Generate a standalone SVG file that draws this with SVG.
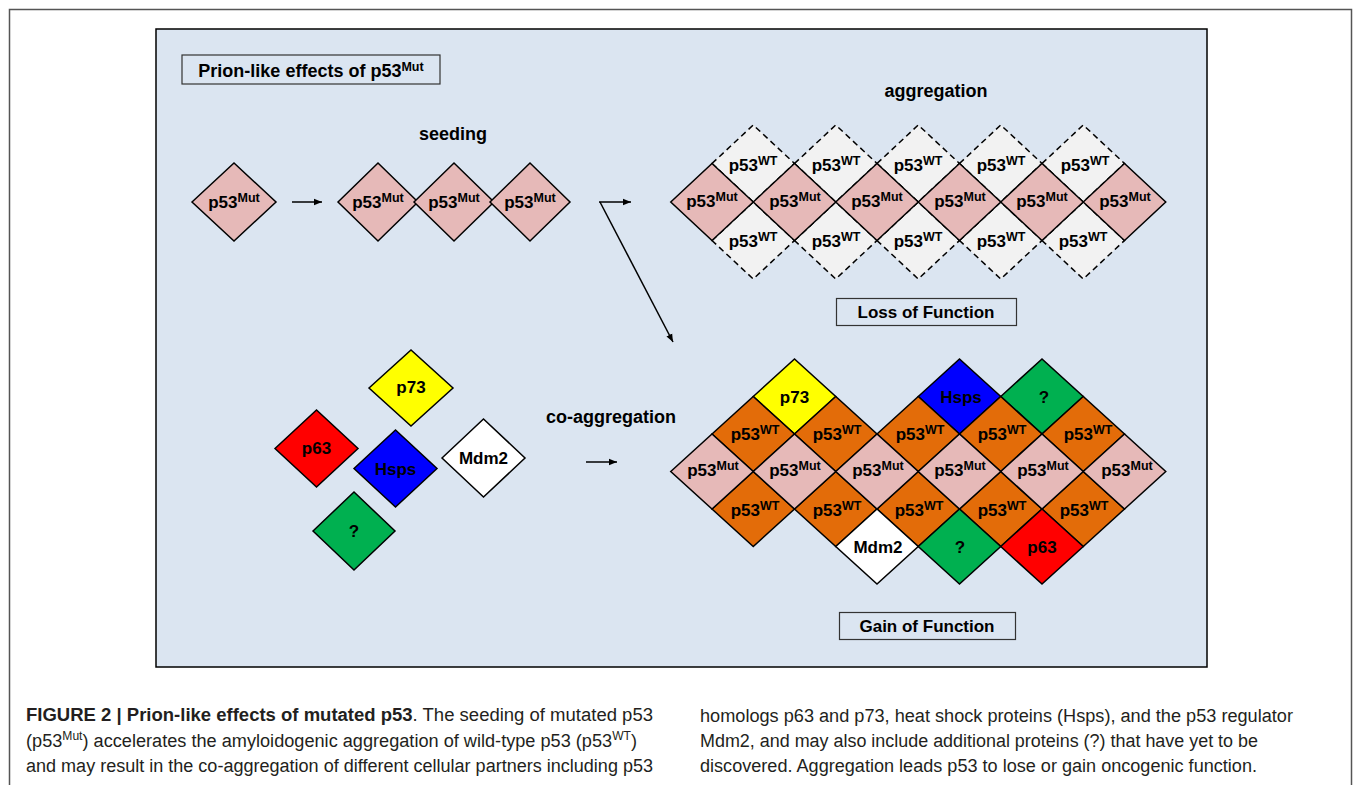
<svg xmlns="http://www.w3.org/2000/svg" width="1355" height="785" viewBox="0 0 1355 785">
<defs>
<marker id="ah" markerUnits="userSpaceOnUse" markerWidth="10" markerHeight="8" refX="8" refY="4" orient="auto">
<path d="M0,0.8 L8,4 L0,7.2 Z" fill="#000"/>
</marker>
<style>
.d{stroke:#000;stroke-width:1.5;stroke-linejoin:miter}
.dash{stroke:#000;stroke-width:1.5;stroke-dasharray:6 4;fill:#f2f2f2}
.mut{fill:#e6b9b8}
.wt{fill:#e36c09}
.t{font-family:"Liberation Sans",Arial,sans-serif;font-weight:bold;font-size:17px;fill:#000;text-anchor:middle}
.h{font-family:"Liberation Sans",Arial,sans-serif;font-weight:bold;font-size:18px;fill:#000}
.s{font-size:12.5px}
.cap{font-family:"Liberation Sans",Arial,sans-serif;font-size:18px;fill:#231f20}
.conn{stroke:#000;stroke-width:1.5;fill:none}
</style>
</defs>
<rect x="0" y="0" width="1355" height="785" fill="#fff"/>
<rect x="9.5" y="9.5" width="1342" height="800" fill="none" stroke="#555" stroke-width="1.5"/>
<rect id="panel" x="156" y="29" width="1051" height="638" fill="#dbe5f1" stroke="#000" stroke-width="1.5"/>

<g id="title">
<rect x="182" y="55" width="258" height="29" fill="#dbe5f1" stroke="#333" stroke-width="1.2"/>
<text class="h" x="311" y="77" text-anchor="middle">Prion-like effects of p53<tspan class="s" dy="-6">Mut</tspan></text>
</g>
<g id="labels">
<text class="h" x="453" y="140" text-anchor="middle">seeding</text>
<text class="h" x="936" y="97" text-anchor="middle">aggregation</text>
<text class="h" x="611" y="423" text-anchor="middle">co-aggregation</text>
</g>

<g id="seed-single">
<polygon class="d mut" points="192,202 234,163 276,202 234,241"/>
<text class="t" x="234" y="208">p53<tspan class="s" dy="-6">Mut</tspan></text>
</g>
<g id="seed-chain">
<polygon class="d mut" points="338,202 378,163 418,202 378,241"/>
<polygon class="d mut" points="414,202 454,163 494,202 454,241"/>
<polygon class="d mut" points="490,202 530,163 570,202 530,241"/>
<text class="t" x="378" y="208">p53<tspan class="s" dy="-6">Mut</tspan></text>
<text class="t" x="454" y="208">p53<tspan class="s" dy="-6">Mut</tspan></text>
<text class="t" x="530" y="208">p53<tspan class="s" dy="-6">Mut</tspan></text>
</g>

<g id="loss-aggregate">
<g id="loss-wt">
<polygon class="dash" points="712,163.5 753.25,125 794.5,163.5 753.25,202"/>
<polygon class="dash" points="794.5,163.5 835.75,125 877,163.5 835.75,202"/>
<polygon class="dash" points="877,163.5 918.25,125 959.5,163.5 918.25,202"/>
<polygon class="dash" points="959.5,163.5 1000.75,125 1042,163.5 1000.75,202"/>
<polygon class="dash" points="1042,163.5 1083.25,125 1124.5,163.5 1083.25,202"/>
<polygon class="dash" points="712,240.5 753.25,202 794.5,240.5 753.25,279"/>
<polygon class="dash" points="794.5,240.5 835.75,202 877,240.5 835.75,279"/>
<polygon class="dash" points="877,240.5 918.25,202 959.5,240.5 918.25,279"/>
<polygon class="dash" points="959.5,240.5 1000.75,202 1042,240.5 1000.75,279"/>
<polygon class="dash" points="1042,240.5 1083.25,202 1124.5,240.5 1083.25,279"/>
</g>
<g id="loss-mut">
<polygon class="d mut" points="670.75,202 712,163.5 753.25,202 712,240.5"/>
<polygon class="d mut" points="753.25,202 794.5,163.5 835.75,202 794.5,240.5"/>
<polygon class="d mut" points="835.75,202 877,163.5 918.25,202 877,240.5"/>
<polygon class="d mut" points="918.25,202 959.5,163.5 1000.75,202 959.5,240.5"/>
<polygon class="d mut" points="1000.75,202 1042,163.5 1083.25,202 1042,240.5"/>
<polygon class="d mut" points="1083.25,202 1124.5,163.5 1165.75,202 1124.5,240.5"/>
</g>
<g id="loss-text">
<text class="t" x="753" y="171">p53<tspan class="s" dy="-6">WT</tspan></text>
<text class="t" x="836" y="171">p53<tspan class="s" dy="-6">WT</tspan></text>
<text class="t" x="918" y="171">p53<tspan class="s" dy="-6">WT</tspan></text>
<text class="t" x="1001" y="171">p53<tspan class="s" dy="-6">WT</tspan></text>
<text class="t" x="1085" y="171">p53<tspan class="s" dy="-6">WT</tspan></text>
<text class="t" x="712" y="207">p53<tspan class="s" dy="-6">Mut</tspan></text>
<text class="t" x="795" y="207">p53<tspan class="s" dy="-6">Mut</tspan></text>
<text class="t" x="877" y="207">p53<tspan class="s" dy="-6">Mut</tspan></text>
<text class="t" x="960" y="207">p53<tspan class="s" dy="-6">Mut</tspan></text>
<text class="t" x="1042" y="207">p53<tspan class="s" dy="-6">Mut</tspan></text>
<text class="t" x="1125" y="207">p53<tspan class="s" dy="-6">Mut</tspan></text>
<text class="t" x="753" y="247">p53<tspan class="s" dy="-6">WT</tspan></text>
<text class="t" x="836" y="247">p53<tspan class="s" dy="-6">WT</tspan></text>
<text class="t" x="918" y="247">p53<tspan class="s" dy="-6">WT</tspan></text>
<text class="t" x="1001" y="247">p53<tspan class="s" dy="-6">WT</tspan></text>
<text class="t" x="1083" y="247">p53<tspan class="s" dy="-6">WT</tspan></text>
</g>
</g>

<g id="loss-of-function">
<rect x="836.5" y="298.5" width="180" height="27" fill="#dbe5f1" stroke="#333" stroke-width="1.2"/>
<text class="t" x="926" y="318">Loss of Function</text>
</g>

<g id="partners">
<g id="free-p73"><polygon class="d" fill="#ffff00" points="369,388 411,350 453,388 411,426"/><text class="t" x="411" y="393">p73</text></g>
<g id="free-p63"><polygon class="d" fill="#ff0000" points="275,448.5 316.5,410 358,448.5 316.5,487"/><text class="t" x="316.5" y="454">p63</text></g>
<g id="free-hsps"><polygon class="d" fill="#0000ff" points="354,468.5 395.5,430 437,468.5 395.5,507"/><text class="t" x="395.5" y="475">Hsps</text></g>
<g id="free-mdm2"><polygon class="d" fill="#ffffff" points="442,458 483.5,419 525,458 483.5,497"/><text class="t" x="483.5" y="464">Mdm2</text></g>
<g id="free-q"><polygon class="d" fill="#00b050" points="313,531 354,492 395,531 354,570"/><text class="t" x="354" y="537">?</text></g>
</g>

<g id="gain-aggregate">
<g id="gain-row0">
<polygon class="d" fill="#ffff00" points="753.25,396.5 794.5,359 835.75,396.5 794.5,434"/>
<polygon class="d" fill="#0000ff" points="918.25,396.5 959.5,359 1000.75,396.5 959.5,434"/>
<polygon class="d" fill="#00b050" points="1000.75,396.5 1042,359 1083.25,396.5 1042,434"/>
</g>
<g id="gain-wt1">
<polygon class="d wt" points="712,434 753.25,396.5 794.5,434 753.25,471.5"/>
<polygon class="d wt" points="794.5,434 835.75,396.5 877,434 835.75,471.5"/>
<polygon class="d wt" points="877,434 918.25,396.5 959.5,434 918.25,471.5"/>
<polygon class="d wt" points="959.5,434 1000.75,396.5 1042,434 1000.75,471.5"/>
<polygon class="d wt" points="1042,434 1083.25,396.5 1124.5,434 1083.25,471.5"/>
</g>
<g id="gain-wt2">
<polygon class="d wt" points="712,509 753.25,471.5 794.5,509 753.25,546.5"/>
<polygon class="d wt" points="794.5,509 835.75,471.5 877,509 835.75,546.5"/>
<polygon class="d wt" points="877,509 918.25,471.5 959.5,509 918.25,546.5"/>
<polygon class="d wt" points="959.5,509 1000.75,471.5 1042,509 1000.75,546.5"/>
<polygon class="d wt" points="1042,509 1083.25,471.5 1124.5,509 1083.25,546.5"/>
</g>
<g id="gain-mut">
<polygon class="d mut" points="670.75,471.5 712,434 753.25,471.5 712,509"/>
<polygon class="d mut" points="753.25,471.5 794.5,434 835.75,471.5 794.5,509"/>
<polygon class="d mut" points="835.75,471.5 877,434 918.25,471.5 877,509"/>
<polygon class="d mut" points="918.25,471.5 959.5,434 1000.75,471.5 959.5,509"/>
<polygon class="d mut" points="1000.75,471.5 1042,434 1083.25,471.5 1042,509"/>
<polygon class="d mut" points="1083.25,471.5 1124.5,434 1165.75,471.5 1124.5,509"/>
</g>
<g id="gain-row4">
<polygon class="d" fill="#ffffff" points="835.75,546.5 877,509 918.25,546.5 877,584"/>
<polygon class="d" fill="#00b050" points="918.25,546.5 959.5,509 1000.75,546.5 959.5,584"/>
<polygon class="d" fill="#ff0000" points="1000.75,546.5 1042,509 1083.25,546.5 1042,584"/>
</g>
<g id="gain-text">
<text class="t" x="794.5" y="403">p73</text>
<text class="t" x="961" y="403">Hsps</text>
<text class="t" x="1044" y="403">?</text>
<text class="t" x="755" y="440">p53<tspan class="s" dy="-6">WT</tspan></text>
<text class="t" x="837" y="440">p53<tspan class="s" dy="-6">WT</tspan></text>
<text class="t" x="920" y="440">p53<tspan class="s" dy="-6">WT</tspan></text>
<text class="t" x="1002" y="440">p53<tspan class="s" dy="-6">WT</tspan></text>
<text class="t" x="1088" y="440">p53<tspan class="s" dy="-6">WT</tspan></text>
<text class="t" x="713" y="476">p53<tspan class="s" dy="-6">Mut</tspan></text>
<text class="t" x="795" y="476">p53<tspan class="s" dy="-6">Mut</tspan></text>
<text class="t" x="878" y="476">p53<tspan class="s" dy="-6">Mut</tspan></text>
<text class="t" x="960" y="476">p53<tspan class="s" dy="-6">Mut</tspan></text>
<text class="t" x="1043" y="476">p53<tspan class="s" dy="-6">Mut</tspan></text>
<text class="t" x="1127" y="476">p53<tspan class="s" dy="-6">Mut</tspan></text>
<text class="t" x="755" y="516">p53<tspan class="s" dy="-6">WT</tspan></text>
<text class="t" x="837" y="516">p53<tspan class="s" dy="-6">WT</tspan></text>
<text class="t" x="919" y="516">p53<tspan class="s" dy="-6">WT</tspan></text>
<text class="t" x="1002" y="516">p53<tspan class="s" dy="-6">WT</tspan></text>
<text class="t" x="1084" y="516">p53<tspan class="s" dy="-6">WT</tspan></text>
<text class="t" x="878" y="553">Mdm2</text>
<text class="t" x="960" y="553">?</text>
<text class="t" x="1042" y="553">p63</text>
</g>
</g>

<g id="gain-of-function">
<rect x="839.5" y="612.5" width="176" height="27" fill="#dbe5f1" stroke="#333" stroke-width="1.2"/>
<text class="t" x="927" y="632">Gain of Function</text>
</g>

<g id="connectors">
<line class="conn" x1="292" y1="202" x2="322" y2="202" marker-end="url(#ah)"/>
<line class="conn" x1="599" y1="202" x2="631" y2="202" marker-end="url(#ah)"/>
<line class="conn" x1="600" y1="202" x2="673" y2="342" marker-end="url(#ah)"/>
<line class="conn" x1="586" y1="462" x2="617" y2="462" marker-end="url(#ah)"/>
</g>

<g id="caption">
<text class="cap" x="26" y="721" textLength="627" lengthAdjust="spacingAndGlyphs"><tspan font-weight="bold">FIGURE 2 | Prion-like effects of mutated p53</tspan>. The seeding of mutated p53</text>
<text class="cap" x="26" y="747" textLength="611" lengthAdjust="spacingAndGlyphs">(p53<tspan font-size="12" dy="-7">Mut</tspan><tspan dy="7">) accelerates the amyloidogenic aggregation of wild-type p53 (p53</tspan><tspan font-size="12" dy="-7">WT</tspan><tspan dy="7">)</tspan></text>
<text class="cap" x="26" y="772" textLength="627" lengthAdjust="spacingAndGlyphs">and may result in the co-aggregation of different cellular partners including p53</text>
<text class="cap" x="700" y="722" textLength="593" lengthAdjust="spacingAndGlyphs">homologs p63 and p73, heat shock proteins (Hsps), and the p53 regulator</text>
<text class="cap" x="700" y="747" textLength="558" lengthAdjust="spacingAndGlyphs">Mdm2, and may also include additional proteins (?) that have yet to be</text>
<text class="cap" x="700" y="772" textLength="557" lengthAdjust="spacingAndGlyphs">discovered. Aggregation leads p53 to lose or gain oncogenic function.</text>
</g>
</svg>
